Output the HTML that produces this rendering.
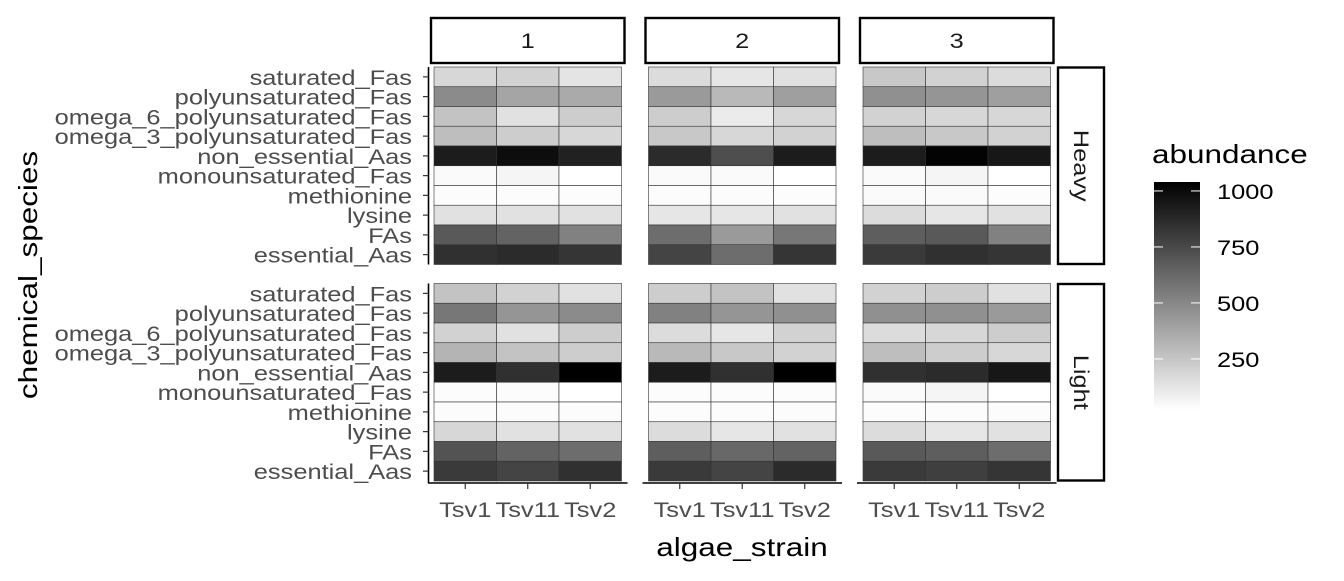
<!DOCTYPE html>
<html><head><meta charset="utf-8"><style>
body{margin:0;background:#fff;}
svg text{font-family:"Liberation Sans",sans-serif;}
</style></head><body>
<svg id="chart" width="1344" height="576" viewBox="0 0 1344 576" xmlns="http://www.w3.org/2000/svg">
<defs><linearGradient id="cb" x1="0" y1="1" x2="0" y2="0"><stop offset="0" stop-color="#fff"/><stop offset="1" stop-color="#000"/></linearGradient></defs>
<g id="plot"></g>
<text class="st" x="0" y="0" transform="translate(37,275) rotate(-90)" text-anchor="middle" font-size="26" fill="#000">chemical_species</text>
<text class="st" x="742" y="556" text-anchor="middle" font-size="26" fill="#000">algae_strain</text>
<g>
<text class="st" x="1152" y="163" font-size="26" fill="#000">abundance</text>
<rect x="1154" y="182" width="46" height="228" fill="url(#cb)"/>
<g id="legticks"></g>
</g>
</svg>
<script>
const NS="http://www.w3.org/2000/svg";
const species=["saturated_Fas","polyunsaturated_Fas","omega_6_polyunsaturated_Fas","omega_3_polyunsaturated_Fas","non_essential_Aas","monounsaturated_Fas","methionine","lysine","FAs","essential_Aas"];
const strains=["Tsv1","Tsv11","Tsv2"];
const colFacets=["1","2","3"];
const rowFacets=["Heavy","Light"];
const legendTicks=[250,500,750,1000];
// values: rows = species (top to bottom), cols = strains
const heavy1=[[181,202,129],[484,383,363],[262,141,222],[282,222,181],[929,989,909],[40,60,20],[32,32,32],[141,141,141],[686,646,525],[848,868,828]];
const heavy2=[[161,121,141],[424,303,404],[222,101,181],[242,181,202],[868,727,929],[40,40,20],[32,32,32],[121,121,141],[606,424,565],[767,606,828]];
const heavy3=[[242,202,161],[464,444,404],[202,181,181],[282,242,202],[929,1030,949],[40,60,20],[40,40,32],[161,121,141],[666,686,525],[808,848,828]];
const light1=[[262,202,141],[565,444,484],[202,141,222],[323,262,222],[929,848,1050],[32,32,20],[32,32,32],[181,141,141],[707,646,606],[808,767,848]];
const light2=[[222,262,141],[525,444,464],[161,121,202],[303,242,202],[929,848,1050],[32,32,32],[32,32,32],[161,121,141],[666,626,646],[808,767,868]];
const light3=[[202,222,141],[464,464,424],[161,181,222],[282,222,181],[848,868,949],[40,60,20],[32,32,32],[161,121,141],[686,666,606],[808,787,828]];
const panels=[[heavy1,heavy2,heavy3],[light1,light2,light3]];
const vmin=22,vmax=1040;
const panelX0=[434,648.5,863], panelW=187.5;
const panelY0=[67,283.5], panelH=197.5;
const cbTop=182,cbBot=410;
const STRETCH=1.21;
function xScale(p,j){return panelX0[p]+j*panelW/strains.length;}
function yScale(f,i){return panelY0[f]+i*panelH/species.length;}
function fill(v){let t=(v-vmin)/(vmax-vmin);t=Math.max(0,Math.min(1,t));const g=Math.round(255*(1-t));return `rgb(${g},${g},${g})`;}
function legY(v){return cbBot-(v-vmin)/(vmax-vmin)*(cbBot-cbTop);}
const plot=document.getElementById('plot');
function mk(tag,attrs,parent){const e=document.createElementNS(NS,tag);for(const k in attrs)e.setAttribute(k,attrs[k]);(parent||plot).appendChild(e);if(tag==='text')e.classList.add('st');return e;}
const cw=panelW/strains.length, ch=panelH/species.length;
rowFacets.forEach((rf,f)=>{
  colFacets.forEach((cf,p)=>{
    const data=panels[f][p];
    species.forEach((s,i)=>{strains.forEach((st,j)=>{
      const r=mk('rect',{x:xScale(p,j),y:yScale(f,i),width:cw,height:ch,fill:fill(data[i][j]),stroke:'#333','stroke-width':0.6});
      
      
    });});
  });
  const ax=mk('line',{x1:428.5,x2:428.5,y1:panelY0[f],y2:panelY0[f]+panelH+(f==1?2:0),stroke:'#000','stroke-width':1.6});
  
  
  species.forEach((s,i)=>{
    const yc=yScale(f,i)+ch/2;
    mk('line',{x1:423,x2:428,y1:yc,y2:yc,stroke:'#333','stroke-width':1.2});
    const t=mk('text',{x:412,y:yc+8,'text-anchor':'end','font-size':21,fill:'#4d4d4d'});
    t.textContent=s;
    
    
  });
  const rs=mk('rect',{x:1058,y:panelY0[f]+0.5,width:46,height:panelH-1,fill:'#fff',stroke:'#000','stroke-width':2.4});
  
  
  const rt=mk('text',{x:0,y:0,transform:`translate(1074,${panelY0[f]+panelH/2}) rotate(90)`,'text-anchor':'middle','font-size':21,fill:'#1a1a1a'});
  rt.textContent=rf;
  
  
});
colFacets.forEach((cf,p)=>{
  const s=mk('rect',{x:panelX0[p]-3,y:18,width:panelW+6,height:45,fill:'#fff',stroke:'#000','stroke-width':2.4});
  
  
  const t=mk('text',{x:panelX0[p]+panelW/2,y:48,'text-anchor':'middle','font-size':21,fill:'#1a1a1a'});
  t.textContent=cf;
  
  
  const ax=mk('line',{x1:panelX0[p]-6,x2:panelX0[p]+panelW+6,y1:483,y2:483,stroke:'#000','stroke-width':1.6});
  
  
  strains.forEach((st,j)=>{
    const xc=xScale(p,j)+cw/2;
    mk('line',{x1:xc,x2:xc,y1:483,y2:489,stroke:'#333','stroke-width':1.2});
    const t2=mk('text',{x:xc,y:517,'text-anchor':'middle','font-size':21,fill:'#4d4d4d'});
    t2.textContent=st;
    
    
  });
});
const lt=document.getElementById('legticks');
legendTicks.forEach(v=>{
  const y=legY(v);
  mk('line',{x1:1154,x2:1163,y1:y,y2:y,stroke:'#fff','stroke-width':1},lt);
  mk('line',{x1:1191,x2:1200,y1:y,y2:y,stroke:'#fff','stroke-width':1},lt);
  const t=mk('text',{x:1217,y:y+8,'font-size':21,fill:'#000'},lt);
  t.textContent=v;
  
  
});
document.querySelectorAll('text.st').forEach(t=>{
  const w=t.getComputedTextLength();
  if(w>0){t.setAttribute('textLength',(w*STRETCH).toFixed(1));t.setAttribute('lengthAdjust','spacingAndGlyphs');}
});
</script>
</body></html>
